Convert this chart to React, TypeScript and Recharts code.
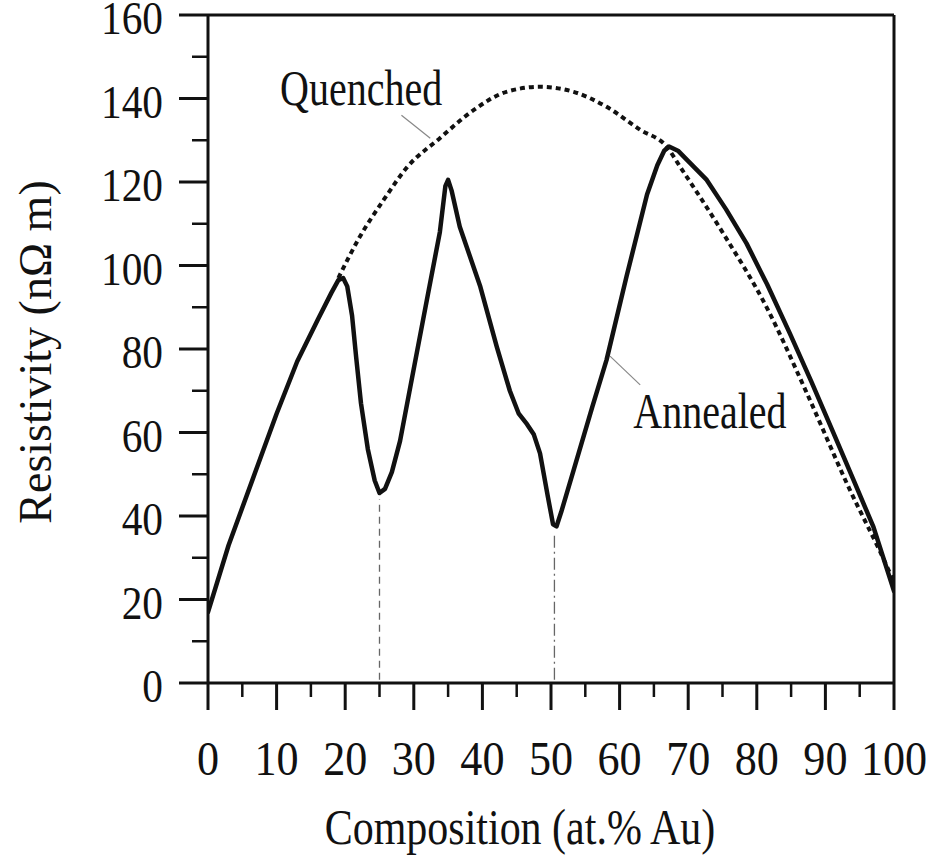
import React from "react";
import { LineChart, Line, XAxis, YAxis, ReferenceLine, ReferenceDot, Label } from "recharts";

// Resistivity vs composition
const ANNEALED_X = [0, 3, 7, 10, 13, 16, 18, 19, 19.7, 20.3, 21, 21.6, 22.3, 23.3, 24.3, 25, 25.8, 26.8, 28, 29.5, 31.9, 33.8, 34.6, 35, 35.5, 36.7, 39.7, 42.1, 44, 45.3, 46.5, 47.5, 48.4, 49.5, 50.3, 50.8, 51.5, 53.3, 56, 58.1, 61, 64, 65.5, 66.5, 67.2, 68.5, 70, 72.7, 75.5, 78.5, 81.5, 84.8, 88, 91.2, 94, 97, 100];
const ANNEALED_Y = [17, 33, 51, 64.5, 77, 87, 93.5, 96.5, 97, 95, 88, 78, 67, 56, 48.5, 45.5, 46.5, 50.5, 58, 71, 91.7, 108, 119, 120.5, 118, 109.3, 94.9, 80.5, 70, 64.5, 62, 59.5, 55, 45, 38, 37.5, 41, 51, 66, 77.4, 97.3, 117, 124, 127.5, 128.5, 127.5, 125, 120.5, 113.5, 105.3, 95.5, 83.8, 72, 59.8, 49, 37.4, 22];

const QUENCHED_X = [19, 22, 25.6, 29, 33.8, 38.7, 43.5, 48.4, 53.3, 58.1, 63, 66.9, 68.8, 75.1, 81.4, 87.3, 93.1, 99.4, 100];
const QUENCHED_Y = [97, 106.5, 115.7, 123.5, 130.5, 137.2, 141.6, 142.8, 141.6, 138, 132.5, 128.4, 123.7, 107.7, 90.1, 69.4, 47.9, 26.3, 24];

const X_TICKS = [0, 5, 10, 15, 20, 25, 30, 35, 40, 45, 50, 55, 60, 65, 70, 75, 80, 85, 90, 95, 100];
const Y_TICKS = [0, 10, 20, 30, 40, 50, 60, 70, 80, 90, 100, 110, 120, 130, 140, 150, 160];

// phase boundaries (minima) and annotation anchors
const MINIMA = [
  { x: 25, y: 44 },
  { x: 50.5, y: 35.5 },
];
const QUENCHED_LEADER = [{ x: 28.2, y: 136 }, { x: 32.4, y: 130.5 }];
const ANNEALED_LEADER = [{ x: 58.6, y: 78.3 }, { x: 63, y: 71.4 }];

const annealed = ANNEALED_X.map((x, i) => ({ x, y: ANNEALED_Y[i] }));
const quenched = QUENCHED_X.map((x, i) => ({ x, y: QUENCHED_Y[i] }));

const FONT = "'Liberation Serif', 'Times New Roman', serif";
const INK = "#111";

const XTick = (props: any) => {
  const { x, y, payload } = props;
  const major = payload.value % 10 === 0;
  return (
    <g>
      <line x1={x} x2={x} y1={y} y2={y + (major ? 27 : 14)} stroke={INK} strokeWidth={major ? 3 : 2.5} />
      {major && (
        <text transform={`translate(${x},${y + 92}) scale(0.92,1)`} textAnchor="middle" fontSize={48} fontFamily={FONT} fill={INK}>
          {payload.value}
        </text>
      )}
    </g>
  );
};

const YTick = (props: any) => {
  const { x, y, payload } = props;
  const major = payload.value % 20 === 0;
  return (
    <g>
      <line x1={x - (major ? 29 : 16)} x2={x} y1={y} y2={y} stroke={INK} strokeWidth={major ? 3 : 2.5} />
      {major && (
        <text transform={`translate(${x - 45},${y + 19}) scale(0.88,1)`} textAnchor="end" fontSize={47} fontFamily={FONT} fill={INK}>
          {payload.value}
        </text>
      )}
    </g>
  );
};

const note = (text: string) => (props: any) => (
  <text transform={`translate(${props.cx},${props.cy}) scale(0.8,1)`} fontSize={50} fontFamily={FONT} fill={INK}>
    {text}
  </text>
);

export default function App() {
  return (
    <div style={{ position: "absolute", left: 0, top: 0, background: "#fff" }}>
      <LineChart width={928} height={864} margin={{ top: 15, right: 34, bottom: 0, left: 0 }}>
        <XAxis
          type="number"
          dataKey="x"
          domain={[0, 100]}
          ticks={X_TICKS}
          interval={0}
          height={181}
          tickSize={0}
          tickMargin={0}
          tick={<XTick />}
          axisLine={{ stroke: INK, strokeWidth: 3 }}
          allowDataOverflow
        >
          <Label
            content={(p: any) => (
              <text
                transform={`translate(${p.viewBox.x + 312},${p.viewBox.y + 161}) scale(0.84,1)`}
                textAnchor="middle"
                fontSize={50}
                fontFamily={FONT}
                fill={INK}
              >
                Composition (at.% Au)
              </text>
            )}
          />
        </XAxis>
        <YAxis
          type="number"
          dataKey="y"
          domain={[0, 160]}
          ticks={Y_TICKS}
          interval={0}
          width={208}
          tickSize={0}
          tickMargin={0}
          tick={<YTick />}
          axisLine={{ stroke: INK, strokeWidth: 3 }}
          allowDataOverflow
        >
          <Label
            content={(p: any) => (
              <text
                transform={`translate(${p.viewBox.x + 51},${p.viewBox.y + p.viewBox.height / 2 + 3}) rotate(-90)`}
                textAnchor="middle"
                fontSize={46}
                fontFamily={FONT}
                fill={INK}
              >
                Resistivity (nΩ m)
              </text>
            )}
          />
        </YAxis>

        {/* frame */}
        <ReferenceLine y={160} stroke={INK} strokeWidth={3} />
        <ReferenceLine x={100} stroke={INK} strokeWidth={3} />

        {MINIMA.map((m, i) => (
          <ReferenceLine
            key={i}
            segment={[{ x: m.x, y: 0.8 }, { x: m.x, y: m.y }]}
            stroke="#666"
            strokeWidth={1.3}
            strokeDasharray={i === 0 ? "7 5" : "12 4 2 4"}
          />
        ))}
        <ReferenceLine segment={QUENCHED_LEADER} stroke="#888" strokeWidth={1.2} />
        <ReferenceLine segment={ANNEALED_LEADER} stroke="#888" strokeWidth={1.2} />

        <Line
          data={quenched}
          dataKey="y"
          type="monotone"
          stroke={INK}
          strokeWidth={4}
          strokeDasharray="5 4"
          dot={false}
          activeDot={false}
          isAnimationActive={false}
        />
        <Line
          data={annealed}
          dataKey="y"
          type="linear"
          stroke={INK}
          strokeWidth={4.5}
          strokeLinejoin="round"
          strokeLinecap="round"
          dot={false}
          activeDot={false}
          isAnimationActive={false}
        />

        <ReferenceDot x={10.5} y={138.4} r={0} shape={note("Quenched")} />
        <ReferenceDot x={62} y={61.1} r={0} shape={note("Annealed")} />
      </LineChart>
    </div>
  );
}
